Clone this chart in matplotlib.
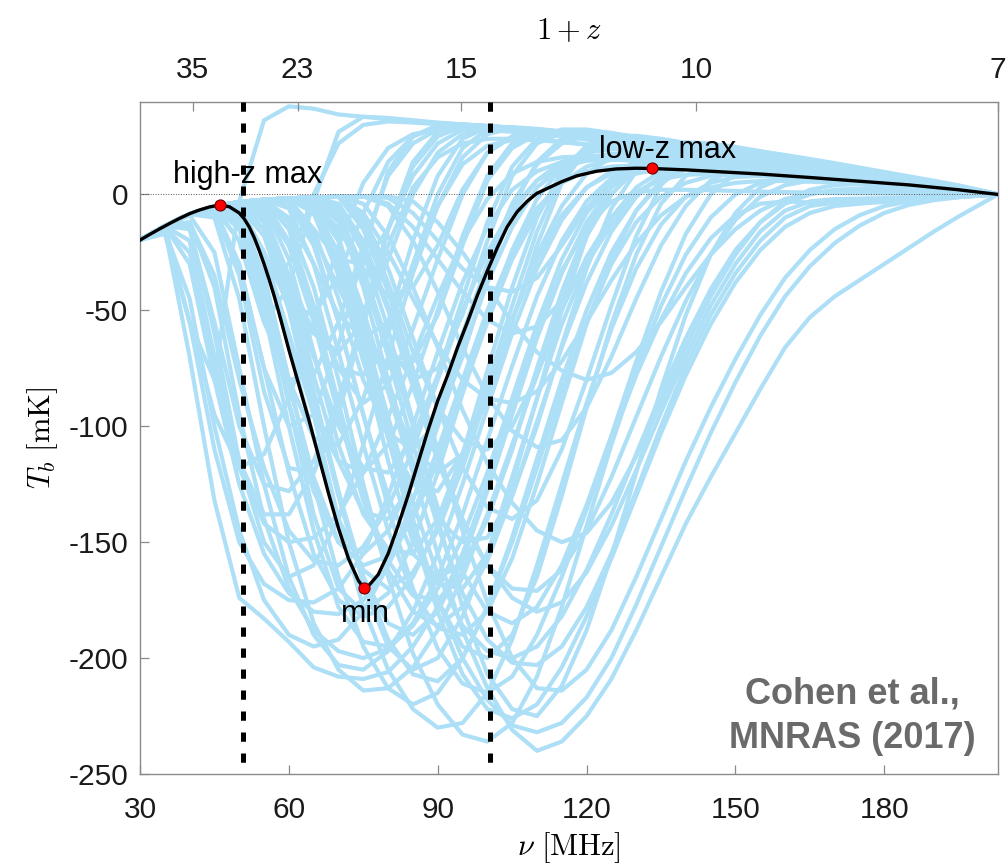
import matplotlib
matplotlib.use("Agg")
import matplotlib.pyplot as plt

plt.rcParams['font.family'] = ['Liberation Sans', 'DejaVu Sans']
plt.rcParams['mathtext.fontset'] = 'cm'

# ---------------- data ----------------
NU_REST = 1420.4  # MHz, 21-cm rest frequency

# common frequency grid of the model family (MHz)
nu_grid = [30, 35, 40, 45, 50, 55, 60, 65, 70, 75, 80, 85,
           90, 95, 100, 105, 110, 115, 120, 125, 130, 135, 140, 145,
           150, 155, 160, 165, 170, 175, 180, 185, 190, 195, 200, 202.9]

# brightness temperature (mK) of the light-blue model curves on nu_grid
tb_F = [-19.7, -14, -55, -80, -3, 32, 38, 37, 34.5, 33.5, 32.5, 31.5,
        30.8, 30.2, 29.5, 28.8, 28, 27, 25.5, 23.5, 21.3, 19.3, 17.4, 15.6,
        14, 12.5, 11, 9.6, 8.3, 7, 5.8, 4.6, 3.4, 2.2, 0.8, 0]
tb_A1 = [-19.7, -15, -70, -132, -174, -183, -193, -204, -208, -209, -206, -195,
         -178, -155, -125, -92, -60, -33, -14, -3, 1, 2, 2, 1.8,
         1.5, 1.2, 1, 0.8, 0.6, 0.5, 0.4, 0.3, 0.2, 0.1, 0, 0]
tb_A2 = [-19.7, -15, -55, -110, -150, -168, -175, -176, -170, -155, -130, -100,
         -68, -38, -14, 2, 10, 14, 15, 15, 14.5, 13.8, 13, 12,
         11, 10, 9, 8, 7, 6, 5, 4, 3, 2, 0.7, 0]
tb_A3 = [-19.7, -13.8, -30, -80, -125, -155, -172, -180, -181, -175, -160, -138,
         -110, -80, -50, -25, -6, 5, 10, 12, 12.5, 12.3, 12, 11.3,
         10.5, 9.6, 8.7, 7.8, 6.9, 6, 5, 4, 3, 2, 0.7, 0]
tb_A4 = [-19.7, -13.6, -15, -55, -100, -125, -128, -115, -88, -55, -22, 3,
         16, 22, 24, 24, 23.5, 22.5, 21.5, 20, 18.5, 17, 15.5, 14,
         12.7, 11.4, 10.1, 8.9, 7.7, 6.5, 5.3, 4.2, 3.1, 2, 0.7, 0]
tb_A5 = [-19.7, -13.6, -12, -40, -95, -140, -170, -188, -197, -200, -196, -186,
         -170, -148, -120, -88, -56, -28, -8, 4, 9, 11, 11.5, 11,
         10.4, 9.7, 9, 8.2, 7.4, 6.5, 5.5, 4.4, 3.3, 2.1, 0.8, 0]
tb_A6 = [-19.7, -13.6, -12, -35, -80, -118, -145, -158, -160, -152, -135, -110,
         -80, -50, -25, -6, 6, 12, 14.5, 15, 14.8, 14.2, 13.5, 12.6,
         11.6, 10.6, 9.6, 8.6, 7.6, 6.5, 5.4, 4.3, 3.2, 2.1, 0.8, 0]
tb_A7 = [-19.7, -14.2, -25, -75, -118, -142, -150, -148, -138, -120, -96, -70,
         -44, -20, -2, 9, 14, 16, 16.5, 16, 15.2, 14.2, 13.2, 12.2,
         11.2, 10.1, 9.1, 8.1, 7.1, 6.1, 5.1, 4.1, 3.1, 2, 0.7, 0]
tb_A8 = [-19.7, -17, -55, -95, -118, -112, -88, -55, -22, 5, 20, 26,
         28, 28.2, 27.8, 27, 26, 25, 23.7, 22.2, 20.5, 18.7, 16.9, 15.2,
         13.7, 12.2, 10.8, 9.5, 8.2, 7, 5.8, 4.6, 3.4, 2.2, 0.8, 0]
tb_A9 = [-19.7, -15.5, -45, -100, -145, -175, -190, -195, -192, -180, -160, -132,
         -100, -68, -38, -14, 3, 12, 16, 17.5, 17.5, 16.8, 15.8, 14.6,
         13.3, 12, 10.7, 9.4, 8.1, 6.8, 5.6, 4.4, 3.2, 2.1, 0.8, 0]
tb_A10 = [-19.7, -13.6, -20, -70, -115, -138, -138, -120, -90, -52, -15, 12,
          25, 29.5, 29.5, 28.7, 27.9, 26.9, 25.3, 23.4, 21.3, 19.3, 17.4, 15.6,
          14, 12.5, 11, 9.6, 8.3, 7, 5.8, 4.6, 3.4, 2.2, 0.8, 0]
tb_A11 = [-19.7, -13.6, -9, -25, -75, -125, -165, -190, -203, -205, -197, -180,
          -155, -125, -92, -60, -32, -11, 3, 10, 13, 14, 13.8, 13.2,
          12.4, 11.5, 10.5, 9.4, 8.3, 7.1, 5.9, 4.7, 3.5, 2.2, 0.8, 0]
tb_A12 = [-19.7, -13.6, -14, -60, -115, -150, -165, -160, -140, -108, -70, -34,
          -5, 13, 21, 23.5, 23.5, 22.8, 21.6, 20, 18.3, 16.6, 15, 13.5,
          12.1, 10.8, 9.5, 8.3, 7.2, 6.1, 5, 3.9, 2.9, 1.9, 0.7, 0]
tb_B2 = [-19.7, -13.6, -8.6, -8, -30, -75, -120, -155, -175, -182, -178, -165,
         -143, -115, -84, -54, -28, -9, 3, 9, 11.5, 12, 11.8, 11.3,
         10.6, 9.9, 9.1, 8.3, 7.4, 6.5, 5.5, 4.5, 3.4, 2.2, 0.8, 0]
tb_B3 = [-19.7, -13.6, -8.5, -6, -20, -55, -80, -78, -55, -22, 8, 22,
         28, 30, 29.5, 28.8, 28, 27, 25.4, 23.4, 21.3, 19.3, 17.4, 15.6,
         14, 12.5, 11, 9.6, 8.3, 7, 5.8, 4.6, 3.4, 2.2, 0.8, 0]
tb_B4 = [-19.7, -13.6, -8.5, -5.6, -14, -45, -90, -128, -150, -155, -145, -122,
         -92, -60, -30, -8, 6, 14, 18, 19.5, 19.5, 18.8, 17.8, 16.5,
         15.2, 13.8, 12.4, 11, 9.6, 8.2, 6.8, 5.4, 4, 2.6, 1, 0]
tb_B5 = [-19.7, -13.6, -8.5, -6, -30, -75, -100, -95, -65, -25, 10, 25,
         30, 30.2, 29.5, 28.7, 27.9, 26.9, 25.3, 23.4, 21.3, 19.3, 17.4, 15.6,
         14, 12.5, 11, 9.6, 8.3, 7, 5.8, 4.6, 3.4, 2.2, 0.8, 0]
tb_B6 = [-19.7, -13.6, -8.5, -5.4, -15, -50, -100, -145, -178, -193, -195, -185,
         -165, -138, -106, -74, -44, -20, -3, 7, 12, 13.5, 13.5, 12.9,
         12.1, 11.2, 10.3, 9.3, 8.3, 7.2, 6, 4.8, 3.6, 2.3, 0.9, 0]
tb_B7 = [-19.7, -13.6, -8.5, -5.2, -6, -28, -65, -105, -140, -162, -170, -163,
         -145, -118, -86, -54, -26, -5, 9, 16, 19, 19.5, 19, 18,
         16.7, 15.3, 13.8, 12.3, 10.8, 9.3, 7.7, 6.2, 4.6, 3, 1.1, 0]
tb_C1 = [-19.7, -13.6, -8.5, -5.4, -10, -35, -80, -125, -165, -195, -213, -220,
         -215, -200, -178, -150, -118, -85, -55, -30, -12, -1, 5, 8,
         9, 9, 8.6, 8, 7.3, 6.5, 5.6, 4.6, 3.5, 2.3, 0.9, 0]
tb_C2 = [-19.7, -13.6, -8.5, -5.2, -5, -18, -50, -95, -140, -178, -205, -222,
         -230, -228, -215, -192, -160, -125, -90, -58, -32, -13, -1, 5,
         7.5, 8, 7.8, 7.3, 6.6, 5.9, 5, 4.1, 3.1, 2, 0.8, 0]
tb_C3 = [-19.7, -13.6, -8.5, -5.2, -4, -15, -45, -88, -130, -165, -185, -190,
         -180, -158, -128, -95, -62, -34, -12, 3, 11, 14.5, 15.5, 15.3,
         14.6, 13.6, 12.5, 11.3, 10, 8.7, 7.3, 5.9, 4.4, 2.9, 1.1, 0]
tb_C4 = [-19.7, -13.6, -8.5, -5.2, -3.3, -8, -35, -78, -115, -137, -140, -125,
         -97, -63, -30, -4, 13, 22, 25.5, 26, 25, 23.3, 21.3, 19.2,
         17.1, 15.2, 13.3, 11.5, 9.8, 8.2, 6.7, 5.2, 3.8, 2.4, 0.9, 0]
tb_C5 = [-19.7, -13.6, -8.5, -5.2, -3.3, -2.8, -12, -40, -80, -125, -165, -198,
         -220, -233, -236, -228, -208, -178, -143, -108, -76, -48, -26, -10,
         0, 5, 6.8, 7, 6.6, 6, 5.2, 4.3, 3.3, 2.1, 0.8, 0]
tb_C6 = [-19.7, -13.6, -8.5, -5.2, -3.3, -2.8, -15, -48, -90, -130, -158, -173,
         -175, -163, -140, -110, -76, -44, -18, 0, 11, 17, 19.5, 19.8,
         19, 17.7, 16.2, 14.5, 12.7, 10.9, 9, 7.2, 5.4, 3.5, 1.3, 0]
tb_C7 = [-19.7, -13.6, -8.5, -5.2, -3.5, -12, -42, -85, -128, -165, -192, -207,
         -210, -200, -178, -148, -114, -80, -50, -25, -7, 5, 11, 13.5,
         14, 13.6, 12.8, 11.8, 10.6, 9.3, 7.9, 6.4, 4.8, 3.1, 1.2, 0]
tb_C8 = [-19.7, -13.6, -8.5, -5.2, -3.3, -5, -28, -68, -108, -138, -153, -155,
         -140, -112, -76, -40, -10, 10, 21, 25, 25.3, 24, 22.2, 20.2,
         18.2, 16.2, 14.3, 12.5, 10.8, 9.1, 7.5, 5.9, 4.4, 2.9, 1.1, 0]
tb_C9 = [-19.7, -13.6, -8.5, -5.2, -3.3, -2.3, -6, -30, -68, -108, -145, -172,
         -187, -190, -180, -157, -125, -90, -56, -28, -7, 6, 12.5, 15,
         15.3, 14.7, 13.7, 12.5, 11.2, 9.8, 8.3, 6.7, 5.1, 3.4, 1.3, 0]
tb_C10 = [-19.7, -13.6, -8.5, -5.2, -3.3, -10, -35, -70, -100, -118, -120, -105,
          -78, -45, -12, 12, 24, 28, 28, 26.5, 24.3, 22, 19.8, 17.7,
          15.8, 14, 12.3, 10.7, 9.2, 7.7, 6.3, 4.9, 3.6, 2.3, 0.8, 0]
tb_E0 = [-19.7, -13.6, -8.5, -5.4, -20, -55, -40, -3, 27, 33.5, 33, 32,
         31, 30.2, 29.4, 28.6, 27.7, 26.6, 25.2, 23.4, 21.3, 19.3, 17.4, 15.6,
         14, 12.5, 11, 9.6, 8.3, 7, 5.8, 4.6, 3.4, 2.2, 0.8, 0]
tb_E1 = [-19.7, -13.6, -8.5, -5.2, -6, -25, -48, -52, -35, -8, 14, 25,
         29, 30, 29.3, 28.6, 27.8, 26.8, 25.3, 23.3, 21.2, 19.2, 17.3, 15.5,
         13.9, 12.4, 10.9, 9.5, 8.2, 6.9, 5.7, 4.5, 3.3, 2.1, 0.8, 0]
tb_E2 = [-19.7, -13.6, -8.5, -5.2, -3.8, -12, -35, -60, -68, -55, -28, 0,
         18, 26, 28.5, 28.5, 27.5, 26.5, 25, 23.2, 21.1, 19.1, 17.2, 15.4,
         13.8, 12.3, 10.8, 9.4, 8.1, 6.8, 5.6, 4.4, 3.2, 2.1, 0.8, 0]
tb_E3 = [-19.7, -13.6, -8.5, -5.2, -3.3, -6, -22, -48, -75, -90, -82, -58,
         -28, 0, 18, 25, 27, 26.5, 25.2, 23.5, 21.5, 19.5, 17.5, 15.7,
         14, 12.5, 11, 9.6, 8.3, 7, 5.8, 4.6, 3.4, 2.2, 0.8, 0]
tb_E4 = [-19.7, -13.6, -8.5, -5.2, -3.3, -2.6, -10, -30, -52, -62, -55, -33,
         -5, 16, 26, 28.5, 28, 27, 25.5, 23.5, 21.4, 19.4, 17.4, 15.6,
         13.9, 12.4, 10.9, 9.5, 8.2, 6.9, 5.7, 4.5, 3.3, 2.1, 0.8, 0]
tb_E5 = [-19.7, -13.6, -8.5, -5.2, -3.3, -2.3, -4, -18, -40, -62, -75, -72,
         -52, -22, 6, 20, 26, 27, 26, 24, 21.8, 19.6, 17.6, 15.7,
         14, 12.4, 10.9, 9.5, 8.2, 6.9, 5.7, 4.5, 3.3, 2.1, 0.8, 0]
tb_E6 = [-19.7, -13.6, -8.5, -7, -35, -85, -118, -120, -95, -55, -15, 14,
         27, 30, 29.5, 28.7, 27.9, 26.9, 25.3, 23.4, 21.3, 19.3, 17.4, 15.6,
         14, 12.5, 11, 9.6, 8.3, 7, 5.8, 4.6, 3.4, 2.2, 0.8, 0]
tb_E7 = [-19.7, -13.6, -8.5, -5.2, -7, -35, -80, -105, -108, -88, -55, -20,
         8, 24, 29, 28.8, 28, 27, 25.4, 23.4, 21.3, 19.3, 17.4, 15.6,
         14, 12.5, 11, 9.6, 8.3, 7, 5.8, 4.6, 3.4, 2.2, 0.8, 0]
tb_E8 = [-19.7, -13.6, -8.5, -5.2, -3.3, -2.3, -2, -15, -45, -80, -103, -110,
         -98, -70, -36, -6, 14, 24, 27, 26.5, 24.8, 22.6, 20.4, 18.2,
         16.1, 14.2, 12.4, 10.7, 9.1, 7.6, 6.2, 4.8, 3.5, 2.2, 0.8, 0]
tb_E9 = [-19.7, -13.6, -8.5, -5.3, -12, -35, -30, 0, 22, 30, 31.5, 31,
         30.3, 29.7, 29.1, 28.4, 27.6, 26.6, 25.2, 23.3, 21.2, 19.2, 17.3, 15.5,
         13.9, 12.4, 10.9, 9.5, 8.2, 6.9, 5.7, 4.5, 3.3, 2.1, 0.8, 0]
tb_E10 = [-19.7, -13.6, -8.5, -5.2, -3.3, -2.3, -3, -15, -28, -30, -15, 8,
          22, 28, 29, 28.5, 27.7, 26.7, 25.2, 23.3, 21.2, 19.2, 17.3, 15.5,
          13.9, 12.4, 10.9, 9.5, 8.2, 6.9, 5.7, 4.5, 3.3, 2.1, 0.8, 0]
tb_E11 = [-19.7, -13.6, -8.5, -5.2, -3.3, -2.3, -1.7, -3, -15, -32, -44, -40,
          -22, 2, 18, 25, 27, 26.5, 25.2, 23.3, 21.2, 19.2, 17.3, 15.5,
          13.9, 12.4, 10.9, 9.5, 8.2, 6.9, 5.7, 4.5, 3.3, 2.1, 0.8, 0]
tb_E12 = [-19.7, -13.6, -8.5, -5.2, -3.3, -3.5, -20, -50, -75, -78, -60, -30,
          0, 20, 28, 29, 28.3, 27.2, 25.6, 23.6, 21.4, 19.4, 17.4, 15.6,
          14, 12.5, 11, 9.6, 8.3, 7, 5.8, 4.6, 3.4, 2.2, 0.8, 0]
tb_D1 = [-19.7, -13.6, -8.5, -5.2, -3.3, -2.3, -1.7, -5, -20, -50, -85, -120,
         -155, -188, -213, -231, -240, -236, -225, -209, -188, -165, -142, -122,
         -103, -84, -66, -53, -44, -37, -30, -23, -16, -9.5, -3.5, 0]
tb_R2 = [-19.7, -13.6, -8.5, -5.2, -3.3, -2.3, -1.7, -8, -30, -62, -100, -140,
         -175, -200, -218, -229, -232, -228, -217, -200, -177, -152, -127, -103,
         -81, -61, -44, -31, -21, -13.5, -8, -4.5, -2.5, -1.2, -0.4, 0]
tb_R3 = [-19.7, -13.6, -8.5, -5.2, -3.3, -2.3, -1.7, -8, -30, -65, -105, -145,
         -180, -207, -222, -226, -220, -204, -182, -157, -130, -103, -78, -56,
         -38, -24, -14, -8, -5, -4, -3.2, -2.5, -1.8, -1.1, -0.4, 0]
tb_R4 = [-19.7, -13.6, -8.5, -5.2, -3.3, -2.3, -4, -22, -55, -95, -135, -170,
         -196, -211, -215, -208, -190, -165, -136, -106, -78, -54, -34, -19,
         -9, -4, -3, -3.5, -3.8, -3.5, -3, -2.5, -1.8, -1.1, -0.4, 0]
tb_R5 = [-19.7, -13.6, -8.5, -5.2, -3.3, -2.3, -1.7, -1.6, -10, -35, -70, -108,
         -143, -172, -192, -202, -203, -195, -178, -155, -128, -100, -74, -52,
         -34, -20, -10, -5, -3.5, -3.2, -2.8, -2.3, -1.7, -1.1, -0.4, 0]
tb_R6 = [-19.7, -13.6, -8.5, -5.2, -3.3, -2.3, -1.7, -1.3, -5, -22, -50, -83,
         -115, -142, -160, -170, -171, -162, -145, -122, -96, -70, -46, -26,
         -11, -1, 4, 6, 6.5, 6.2, 5.6, 4.8, 3.8, 2.5, 1, 0]
tb_R7 = [-19.7, -13.6, -8.5, -5.2, -3.3, -2.3, -1.7, -6, -25, -58, -96, -133,
         -164, -186, -197, -200, -195, -182, -162, -138, -112, -86, -62, -41,
         -24, -12, -4, 0, 2, 2.5, 2.5, 2.2, 1.8, 1.2, 0.5, 0]
tb_R8 = [-19.7, -13.6, -8.5, -5.2, -3.3, -2.3, -1.7, -1.3, -4, -20, -48, -80,
         -112, -140, -160, -174, -180, -176, -163, -143, -119, -94, -70, -48,
         -30, -16, -7, -3, -2, -1.8, -1.6, -1.4, -1.1, -0.8, -0.3, 0]
tb_R9 = [-19.7, -13.6, -8.5, -5.2, -3.3, -2.3, -1.7, -1.3, -1.0, -4, -18, -40,
         -66, -93, -116, -133, -145, -150, -146, -133, -113, -90, -66, -44,
         -26, -12, -3, 2, 4, 4.5, 4.2, 3.6, 2.8, 1.9, 0.7, 0]
tb_R10 = [-19.7, -13.6, -8.5, -5.2, -3.3, -2.3, -1.7, -1.3, -1.0, -15, -42, -75,
          -110, -145, -176, -200, -213, -214, -205, -188, -165, -140, -115, -92,
          -71, -52, -36, -24, -15, -9, -5, -3, -1.8, -1, -0.3, 0]
tb_L1 = [-19.7, -13.6, -8.5, -5.2, -3.3, -2.3, -1.7, -6, -30, -70, -115, -150,
         -168, -170, -155, -125, -88, -50, -18, 4, 16, 21, 22.5, 22,
         20.5, 18.7, 16.8, 14.8, 12.8, 10.9, 9, 7.2, 5.4, 3.5, 1.3, 0]
tb_L2 = [-19.7, -13.6, -8.5, -5.2, -3.3, -2.3, -1.7, -1.3, -10, -40, -80, -115,
         -140, -150, -148, -130, -100, -65, -32, -6, 10, 17.5, 20, 20,
         19, 17.6, 16, 14.3, 12.5, 10.7, 8.9, 7.1, 5.3, 3.5, 1.3, 0]
tb_L3 = [-19.7, -13.6, -8.5, -5.2, -3.3, -2.3, -1.7, -1.3, -1.0, -12, -38, -68,
         -92, -106, -110, -100, -78, -48, -18, 4, 15, 19.5, 20.5, 20,
         18.8, 17.3, 15.7, 14, 12.3, 10.5, 8.7, 7, 5.2, 3.4, 1.3, 0]
tb_L4 = [-19.7, -13.6, -8.5, -5.2, -3.3, -2.3, -1.7, -2, -18, -55, -100, -142,
         -175, -195, -200, -190, -165, -130, -92, -56, -26, -4, 8, 13,
         14.5, 14.3, 13.5, 12.3, 11, 9.6, 8.1, 6.6, 5, 3.3, 1.2, 0]
tb_L5 = [-19.7, -13.6, -8.5, -5.2, -3.3, -2.3, -1.7, -1.3, -6, -25, -58, -98,
         -140, -178, -207, -222, -225, -212, -188, -156, -120, -84, -52, -26,
         -8, 3, 7.5, 8.5, 8.2, 7.4, 6.4, 5.3, 4, 2.6, 1, 0]
tb_L6 = [-19.7, -13.6, -8.5, -5.2, -3.3, -2.3, -1.7, -1.3, -12, -38, -65, -80,
         -75, -52, -20, 8, 22, 26.5, 26, 24.5, 22.3, 20.1, 18, 16.1,
         14.3, 12.7, 11.2, 9.7, 8.4, 7.1, 5.8, 4.6, 3.4, 2.2, 0.8, 0]
tb_L7 = [-19.7, -13.6, -8.5, -5.2, -3.3, -2.3, -1.7, -1.3, -1.0, -10, -32, -62,
         -92, -118, -135, -140, -132, -110, -80, -48, -18, 4, 15, 19,
         19.5, 18.5, 17, 15.3, 13.5, 11.6, 9.7, 7.8, 5.9, 3.9, 1.5, 0]
tb_L8 = [-19.7, -13.6, -8.5, -5.2, -3.3, -2.3, -1.7, -1.3, -8, -32, -65, -100,
         -135, -163, -180, -185, -178, -160, -134, -104, -72, -42, -17, 0,
         9, 12.5, 13, 12.5, 11.5, 10.2, 8.7, 7.1, 5.4, 3.6, 1.4, 0]
tb_L9 = [-19.7, -13.6, -8.5, -5.2, -3.3, -2.3, -1.7, -1.3, -1.0, -0.8, -5, -20,
         -42, -66, -87, -102, -109, -106, -92, -70, -45, -22, -5, 6,
         11, 12.5, 12.5, 11.8, 10.8, 9.6, 8.2, 6.7, 5.1, 3.4, 1.3, 0]
tb_L10 = [-19.7, -13.6, -8.5, -5.2, -3.3, -2.3, -1.7, -3, -20, -52, -85, -110,
          -120, -112, -88, -55, -22, 5, 19, 24, 24.5, 23.2, 21.4, 19.4,
          17.4, 15.5, 13.7, 12, 10.3, 8.7, 7.2, 5.7, 4.2, 2.7, 1, 0]
tb_M1 = [-19.7, -13.6, -8.5, -5.4, -12, -40, -82, -122, -150, -160, -156, -140,
         -115, -85, -55, -28, -8, 5, 12, 15, 15.8, 15.5, 14.8, 13.9,
         12.9, 11.8, 10.7, 9.5, 8.3, 7.1, 5.9, 4.7, 3.5, 2.2, 0.8, 0]
tb_M2 = [-19.7, -13.6, -8.5, -5.2, -3.3, -10, -40, -85, -130, -168, -195, -205,
         -200, -182, -155, -122, -88, -56, -30, -10, 3, 10, 13, 13.8,
         13.5, 12.8, 11.9, 10.8, 9.6, 8.3, 7, 5.6, 4.2, 2.7, 1, 0]
tb_M3 = [-19.7, -13.6, -8.5, -5.2, -5, -25, -60, -95, -115, -120, -108, -82,
         -50, -18, 8, 22, 27, 27.5, 26.5, 24.8, 22.6, 20.4, 18.4, 16.5,
         14.8, 13.2, 11.6, 10, 8.6, 7.2, 5.9, 4.6, 3.4, 2.2, 0.8, 0]
tb_M4 = [-19.7, -13.6, -8.5, -5.2, -3.3, -4, -22, -55, -95, -132, -162, -180,
         -186, -178, -158, -130, -98, -66, -38, -16, -1, 8, 12.5, 14,
         14, 13.4, 12.5, 11.4, 10.2, 8.9, 7.5, 6.1, 4.6, 3, 1.1, 0]
tb_M5 = [-19.7, -13.6, -8.5, -10, -45, -100, -150, -185, -205, -214, -213, -204,
         -188, -165, -138, -108, -78, -50, -27, -10, 1, 6.5, 8.5, 8.8,
         8.4, 7.9, 7.3, 6.6, 5.9, 5.2, 4.4, 3.6, 2.7, 1.7, 0.6, 0]
tb_M6 = [-19.7, -13.6, -8.5, -5.2, -3.3, -2.3, -1.7, -8, -35, -72, -105, -125,
         -128, -112, -82, -48, -16, 8, 20, 24.5, 25, 23.8, 22, 20,
         18, 16, 14.1, 12.3, 10.6, 9, 7.4, 5.9, 4.3, 2.8, 1, 0]
tb_M7 = [-19.7, -13.6, -8.5, -5.2, -8, -40, -90, -138, -170, -180, -172, -150,
         -120, -86, -53, -24, -2, 12, 19, 21.5, 21.5, 20.5, 19, 17.3,
         15.6, 13.9, 12.3, 10.8, 9.3, 7.9, 6.5, 5.1, 3.8, 2.4, 0.9, 0]
tb_M8 = [-19.7, -13.6, -8.5, -5.2, -3.3, -2.3, -2.5, -20, -55, -95, -130, -155,
         -165, -160, -140, -110, -75, -42, -15, 4, 14, 18.5, 20, 19.6,
         18.5, 17, 15.4, 13.7, 12, 10.3, 8.6, 6.9, 5.2, 3.4, 1.3, 0]
tb_N1 = [-19.7, -13.6, -8.5, -5.2, -3.3, -2.3, -1.7, -1.3, -1.0, -8, -25, -45,
         -65, -80, -88, -90, -85, -72, -55, -37, -21, -9, -1, 3,
         5, 5.8, 5.8, 5.5, 5, 4.4, 3.8, 3.1, 2.4, 1.6, 0.6, 0]
tb_N2 = [-19.7, -13.6, -8.5, -5.2, -3.3, -2.3, -1.7, -1.3, -1.0, -0.8, -4, -14,
         -28, -42, -54, -60, -57, -46, -30, -13, 0, 8, 12, 13.5,
         13.5, 12.8, 11.8, 10.6, 9.4, 8.1, 6.8, 5.4, 4, 2.6, 1, 0]
tb_N3 = [-19.7, -13.6, -8.5, -5.2, -3.3, -2.3, -1.7, -1.3, -1.0, -0.8, -0.8, -3,
         -12, -25, -40, -55, -68, -76, -80, -77, -68, -55, -40, -26,
         -15, -7, -2, 0.5, 1.5, 1.8, 1.7, 1.4, 1.1, 0.7, 0.3, 0]
tb_U1 = [-19.7, -13.6, -8.5, -5.2, -3.3, -2.3, -1.7, -1.3, -1.0, -0.8, -1.5, -8,
         -20, -32, -40, -42, -36, -22, -6, 6, 12, 14.5, 15, 14.5,
         13.6, 12.5, 11.3, 10, 8.8, 7.5, 6.2, 4.9, 3.6, 2.3, 0.8, 0]

model_curves = [tb_A1, tb_A2, tb_A3, tb_A4, tb_A5, tb_A6, tb_A7, tb_A8,
                tb_A9, tb_A10, tb_A11, tb_A12,
                tb_B2, tb_B3, tb_B4, tb_B5, tb_B6, tb_B7,
                tb_C1, tb_C2, tb_C3, tb_C4, tb_C5, tb_C6, tb_C7, tb_C8,
                tb_C9, tb_C10,
                tb_E0, tb_E1, tb_E2, tb_E3, tb_E4, tb_E5, tb_E6, tb_E7, tb_E8,
                tb_E9, tb_E10, tb_E11, tb_E12,
                tb_D1, tb_R2, tb_R3, tb_R4, tb_R5, tb_R6, tb_R7, tb_R8, tb_R9,
                tb_R10,
                tb_L1, tb_L2, tb_L3, tb_L4, tb_L5, tb_L6, tb_L7, tb_L8, tb_L9,
                tb_L10,
                tb_M1, tb_M2, tb_M3, tb_M4, tb_M5, tb_M6, tb_M7, tb_M8,
                tb_N1, tb_N2, tb_N3, tb_U1, tb_F]

# fiducial (black) curve
nu_fid = [30, 32, 34, 36, 38, 40, 42, 44, 46, 48, 50, 51, 52, 53, 54, 55, 56,
          57, 58, 59, 60, 62, 64, 66, 68, 70, 72, 74, 75, 76, 78, 80, 82, 84,
          86, 88, 90, 92, 94, 96, 98, 100, 102, 104, 106, 108, 110, 112, 115,
          118, 122, 126, 130, 133, 140, 145, 155, 165, 175, 185, 195, 202.9]
tb_fid = [-19.7, -17.2, -14.8, -12.5, -10.3, -8.3, -6.7, -5.4, -4.6, -5.3,
          -8.0, -10.5, -14, -18.5, -24, -30, -36.5, -43.5, -51, -59, -67,
          -82, -97, -113, -129, -144, -157, -166.5, -169.6, -169, -164, -155,
          -143, -130, -116, -102, -89, -78, -66, -55, -43.5, -33, -23, -14,
          -7.5, -3, 0.5, 2.5, 5.5, 8, 10, 11, 11.3, 11.2, 10.6, 10.0, 8.8,
          7.3, 5.7, 4.1, 2.0, 0]

# turning points of the fiducial curve
ext_nu = [46.2, 75.2, 133.2]
ext_tb = [-4.6, -169.6, 11.2]
ext_names = ['high-z max', 'min', 'low-z max']

# band edges (dashed lines)
band_edges = [50.7, 100.6]

# axes ticks
x_ticks = [30, 60, 90, 120, 150, 180]
x_ticklabels = ['30', '60', '90', '120', '150', '180']
y_ticks = [-250, -200, -150, -100, -50, 0]
y_ticklabels = ['-250', '-200', '-150', '-100', '-50', '0']
one_plus_z = [35, 23, 15, 10, 7]
top_ticklabels = ['35', '23', '15', '10', '7']

# ---------------- figure ----------------
W, H = 1007, 865
fig = plt.figure(figsize=(W / 100, H / 100), dpi=100)
ax_l, ax_r, ax_t, ax_b = 140, 998, 101.7, 774
ax = fig.add_axes([ax_l / W, 1 - ax_b / H, (ax_r - ax_l) / W, (ax_b - ax_t) / H])

blue = '#ADDFF7'
for tb in model_curves:
    ax.plot(nu_grid, tb, color=blue, lw=3.0, solid_joinstyle='round',
            solid_capstyle='round', zorder=1)

ax.axhline(0, color='#555555', lw=0.7, ls=(0, (1, 1.6)), zorder=2)

for xe in band_edges:
    ax.axvline(xe, ymin=1, ymax=0, color='black', lw=3.6,
               ls=(0, (1.85, 2.35)), zorder=3)

ax.plot(nu_fid, tb_fid, color='black', lw=2.4, zorder=4)
ax.plot(ext_nu, ext_tb, 'o', ms=8, mfc='#ff0000', mec='#6a0000', mew=0.8,
        zorder=5)

offsets = [(19.7, 15.8), (1.2, -24.5), (11, 7.4)]
for nx, ty, name, off in zip(ext_nu, ext_tb, ext_names, offsets):
    ax.annotate(name, xy=(nx, ty), xytext=off, textcoords='offset points',
                ha='center', va='baseline', fontsize=22, color='black',
                zorder=6)

ax.set_xlim(30, NU_REST / 7)
ax.set_ylim(-250, 40)
ax.set_xticks(x_ticks)
ax.set_xticklabels(x_ticklabels)
ax.set_yticks(y_ticks)
ax.set_yticklabels(y_ticklabels)

spine_col = '#8a8a8a'
for s in ax.spines.values():
    s.set_color(spine_col)
    s.set_linewidth(1.0)

ax.tick_params(axis='both', direction='in', length=6.5, width=0.9,
               color=spine_col, labelcolor='#1a1a1a', labelsize=21.5)
ax.tick_params(axis='x', pad=15.5)
ax.tick_params(axis='y', pad=8.5)

ax.set_xlabel(r'$\nu\ [\mathrm{MHz}]$', fontsize=22)
ax.xaxis.set_label_coords(0.5, -0.083)
ax.set_ylabel(r'$T_b\ [\mathrm{mK}]$', fontsize=22)
ax.yaxis.set_label_coords(-0.093, 0.5)

ax2 = ax.twiny()
ax2.set_xlim(ax.get_xlim())
ax2.set_xticks([NU_REST / v for v in one_plus_z])
ax2.set_xticklabels(top_ticklabels)
for s in ax2.spines.values():
    s.set_visible(False)
ax2.tick_params(axis='x', direction='in', length=6.5, width=0.9,
                color=spine_col, labelcolor='#1a1a1a', labelsize=21.5, pad=13)
ax2.set_xlabel(r'$1+z$', fontsize=22)
ax2.xaxis.set_label_coords(0.5, 1.093)

ax.text(0.830, 0.1056, 'Cohen et al.,', transform=ax.transAxes,
        ha='center', va='baseline', fontsize=26, fontweight='bold',
        color='#6a6a6a', zorder=6)
ax.text(0.830, 0.0387, 'MNRAS (2017)', transform=ax.transAxes,
        ha='center', va='baseline', fontsize=26, fontweight='bold',
        color='#6a6a6a', zorder=6)

fig.savefig('out.png', dpi=100)
